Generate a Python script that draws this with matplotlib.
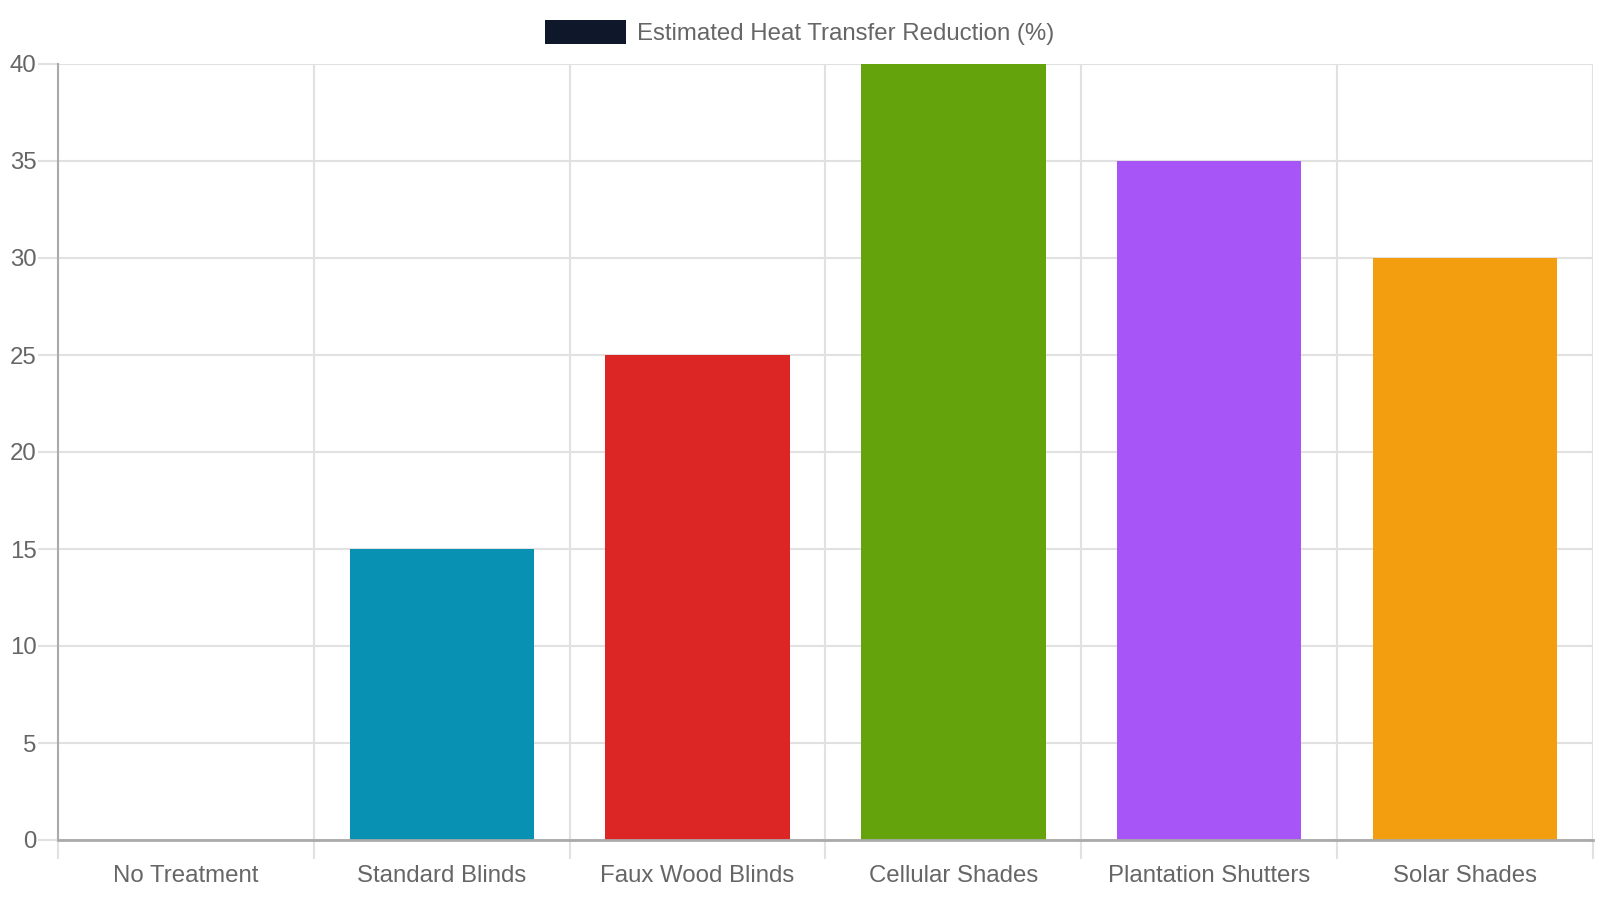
import matplotlib
matplotlib.use("Agg")
import matplotlib.pyplot as plt
from matplotlib.patches import Rectangle

plt.rcParams['font.family'] = ['Liberation Sans', 'DejaVu Sans']

categories = ["No Treatment", "Standard Blinds", "Faux Wood Blinds", "Cellular Shades",
              "Plantation Shutters", "Solar Shades"]
values = [0, 15, 25, 40, 35, 30]
colors = ["#9ca3af", "#0891b2", "#dc2626", "#65a30d", "#a855f7", "#f39e0e"]
series_label = "Estimated Heat Transfer Reduction (%)"
yticks = [0, 5, 10, 15, 20, 25, 30, 35, 40]

W, H = 1600, 900
fig = plt.figure(figsize=(16, 9), dpi=100)
L, R, T, B = 58, 1593, 64, 840
ax = fig.add_axes([L / W, 1 - B / H, (R - L) / W, (B - T) / H])

x = list(range(len(categories)))
ax.bar(x, values, width=0.72, color=colors, zorder=2)

ax.set_xlim(-0.5, len(categories) - 0.5)
ax.set_ylim(0, 40)

grid_c = "#e1e1e1"
text_c = "#666666"
px = 0.72
fs = 24 * px

# x: major ticks at boundaries (grid), minor at centers (labels)
ax.set_xticks([i - 0.5 for i in range(len(categories) + 1)])
ax.set_xticklabels([])
ax.set_xticks(x, minor=True)
ax.set_xticklabels(categories, minor=True)
ax.tick_params(axis='x', which='major', length=19 * px, width=1.5, color=grid_c)
ax.tick_params(axis='x', which='minor', length=0, pad=25 * px, labelsize=fs, labelcolor=text_c)
ax.xaxis.grid(True, which='major', color=grid_c, linewidth=1.5, zorder=0)

ax.set_yticks(yticks)
ax.set_yticklabels([str(v) for v in yticks])
ax.tick_params(axis='y', length=20 * px, width=1.5, color=grid_c, pad=1,
               labelsize=fs, labelcolor=text_c)
ax.yaxis.grid(True, color=grid_c, linewidth=1.5, zorder=0)
ax.set_axisbelow(True)

for s in ["top", "right"]:
    ax.spines[s].set_visible(False)
ax.spines["left"].set_color("#aaaaaa")
ax.spines["left"].set_linewidth(1.5)
ax.spines["bottom"].set_color("#aaaaaa")
ax.spines["bottom"].set_linewidth(2)
for s in ["left", "bottom"]:
    ax.spines[s].set_zorder(3)

# legend
fig.patches.append(Rectangle((545 / W, 1 - 44 / H), 81 / W, 24 / H,
                             transform=fig.transFigure, facecolor="#0f172a",
                             edgecolor="none"))
fig.text(637 / W, 1 - 34 / H, series_label, fontsize=fs, color=text_c,
         ha='left', va='center')

fig.savefig("out.png", dpi=100, facecolor="white")
